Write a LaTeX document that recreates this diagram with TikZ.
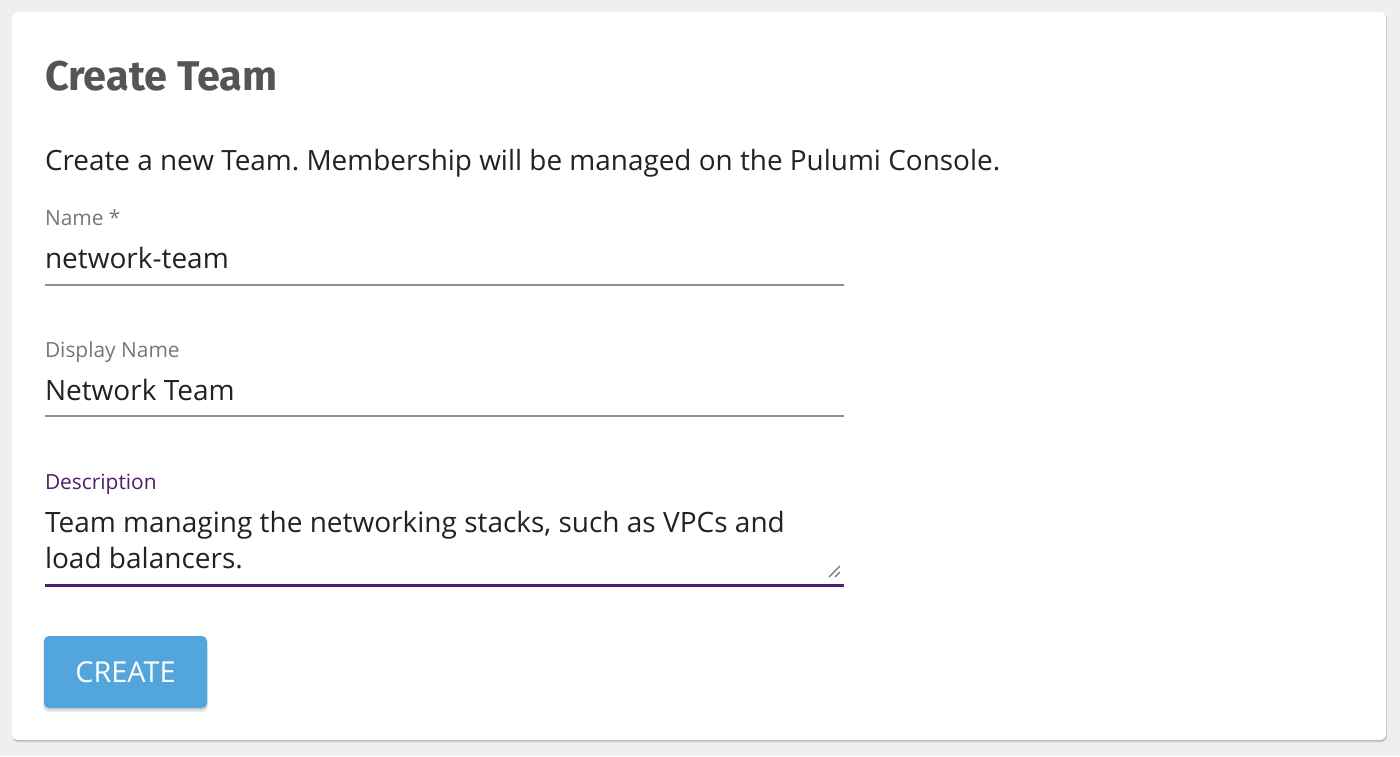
\documentclass[tikz,border=0pt]{standalone}
\usepackage{fontspec}
\setmainfont{Open Sans}
\newfontfamily\titlefont{Fira Sans}
\definecolor{pagebg}{HTML}{EFEFEF}
\definecolor{titlegray}{HTML}{555555}
\definecolor{bodytext}{HTML}{222222}
\definecolor{labelgray}{HTML}{777777}
\definecolor{linegray}{HTML}{8E8E8E}
\definecolor{focuspurple}{HTML}{521D6E}
\definecolor{btnblue}{HTML}{52A6DB}
\begin{document}
\frenchspacing
\begin{tikzpicture}[x=1pt,y=-1pt,
  txt/.style={anchor=base west,inner sep=0pt,outer sep=0pt},
  fieldlabel/.style={txt,text=labelgray,font=\fontsize{20.9}{24}\selectfont},
  fieldvalue/.style={txt,text=bodytext,font=\fontsize{28}{36}\selectfont},
  underline/.style={draw=linegray,line width=1.6pt},
]
\fill[pagebg] (0,0) rectangle (1400,756);
\useasboundingbox (0,0) rectangle (1400,756);
% card shadow
\fill[black!12,rounded corners=6pt] (12,13) rectangle (1387,742.5);
\fill[black!30,rounded corners=5pt] (12.5,13) rectangle (1386.5,741.3);
\fill[white,rounded corners=5pt] (12,12) rectangle (1386,740);
\node[txt,text=titlegray,font=\titlefont\bfseries\fontsize{41.5}{46}\selectfont] (title) at (45,90) {Create Team};
\node[txt,text=bodytext,font=\fontsize{27.9}{32}\selectfont] (intro) at (45,170) {Create a new Team. Membership will be managed on the Pulumi Console.};
\node[fieldlabel] (namelbl) at (45,225) {Name *};
\node[fieldvalue] (nameval) at (45,268) {network-team};
\draw[underline] (45,285) -- (844,285);
\node[fieldlabel] (displbl) at (45,357) {Display Name};
\node[fieldvalue] (dispval) at (45,400) {Network Team};
\draw[underline] (45,416) -- (844,416);
\node[fieldlabel,text=focuspurple] (desclbl) at (45,489) {Description};
\node[fieldvalue] (descval1) at (45,532) {Team managing the networking stacks, such as VPCs and};
\node[fieldvalue] (descval2) at (45,568) {load balancers.};
\draw[linegray!80!black,line width=1.2pt] (829,577) -- (840,566);
\draw[linegray!80!black,line width=1.2pt] (835,577) -- (840,572);
\draw[focuspurple,line width=3pt] (45,585) -- (844,585);
% button
\fill[black!8,rounded corners=6pt] (43,637) rectangle (208,712);
\fill[black!18,rounded corners=5pt] (44,637) rectangle (207,710);
\fill[btnblue,rounded corners=5pt] (44,636) rectangle (207,708);
\node[inner sep=0pt,text=white,font=\fontsize{28.8}{32}\selectfont] (create) at (125.5,672) {CREATE};
\end{tikzpicture}
\end{document}
